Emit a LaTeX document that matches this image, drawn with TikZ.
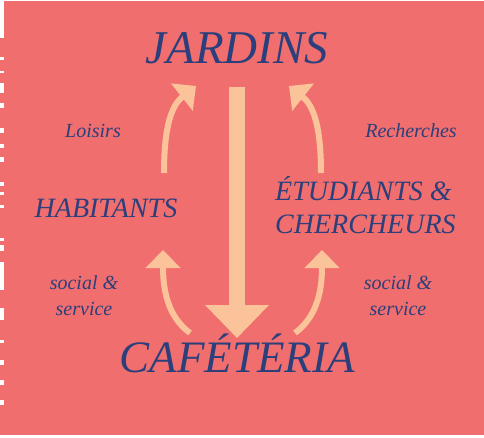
\documentclass[tikz,border=0pt]{standalone}
\usepackage{fontspec}
\setmainfont{Liberation Serif}
\usetikzlibrary{arrows.meta}
\definecolor{salmon}{HTML}{F16E6F}
\definecolor{ink}{HTML}{2A3F7B}
\definecolor{peach}{HTML}{FBC39A}
\begin{document}
\begin{tikzpicture}[x=1pt,y=-1pt,
  lbl/.style={inner sep=0pt,text=ink,font=\itshape},
  curv/.style={draw=peach,line width=6pt,-{Triangle[length=18pt,width=34pt]}},
  bigarrow/.style={draw=peach,line width=16pt,-{Triangle[length=33pt,width=62pt]}},
  tick/.style={fill=white,draw=none}]
\useasboundingbox (0,0) rectangle (484,437);
\fill[white] (0,0) rectangle (484,437);
\fill[salmon] (0,1) rectangle (484,435);
% left white edge marks
\fill[tick] (0,0) rectangle (4,38);
\foreach \a/\b in {57/60,71/73,83/93,103/108,128/133,144/148,157/162,182/186,192/195,205/208,238/241,245/251,262/290,308/320,340/343,360/365,380/385,400/405}
  \fill[tick] (0,\a) rectangle (3.5,\b);
% texts
\node[lbl,anchor=base,font=\itshape\fontsize{47}{50}\selectfont] (jardins) at (237,63) {JARDINS};
\node[lbl,anchor=base,font=\itshape\fontsize{45}{48}\selectfont] (cafe) at (237,372) {CAFÉTÉRIA};
\node[lbl,anchor=base,font=\itshape\fontsize{28}{33}\selectfont] (hab) at (106,217) {HABITANTS};
\node[lbl,anchor=base west,align=left,font=\itshape\fontsize{28}{33}\selectfont] (etu) at (275,233) {ÉTUDIANTS \&\\CHERCHEURS};
\node[lbl,anchor=base,font=\itshape\fontsize{20}{26}\selectfont] (loisirs) at (93,137) {Loisirs};
\node[lbl,anchor=base,font=\itshape\fontsize{20}{26}\selectfont] (rech) at (411,137) {Recherches};
\node[lbl,anchor=base,align=center,font=\itshape\fontsize{20}{26}\selectfont] (soc1) at (84,315) {social \&\\service};
\node[lbl,anchor=base,align=center,font=\itshape\fontsize{20}{26}\selectfont] (soc2) at (398,315) {social \&\\service};
% arrow end points
\coordinate (bigA) at (237,87);
\coordinate (bigB) at (237,338);
\coordinate (ulA) at (164,173);
\coordinate (ulB) at (196,86);
\coordinate (urA) at (321,173);
\coordinate (urB) at (289,86);
\coordinate (llA) at (190,333);
\coordinate (llB) at (163,250);
\coordinate (lrA) at (295,333);
\coordinate (lrB) at (322,250);
% arrows
\draw[bigarrow] (bigA) -- (bigB);
\draw[curv] (ulA) .. controls (164,125) and (172,105) .. (ulB);
\draw[curv] (urA) .. controls (321,125) and (313,105) .. (urB);
\draw[curv] (llA) .. controls (170,318) and (163,295) .. (llB);
\draw[curv] (lrA) .. controls (315,318) and (322,295) .. (lrB);
\end{tikzpicture}
\end{document}
